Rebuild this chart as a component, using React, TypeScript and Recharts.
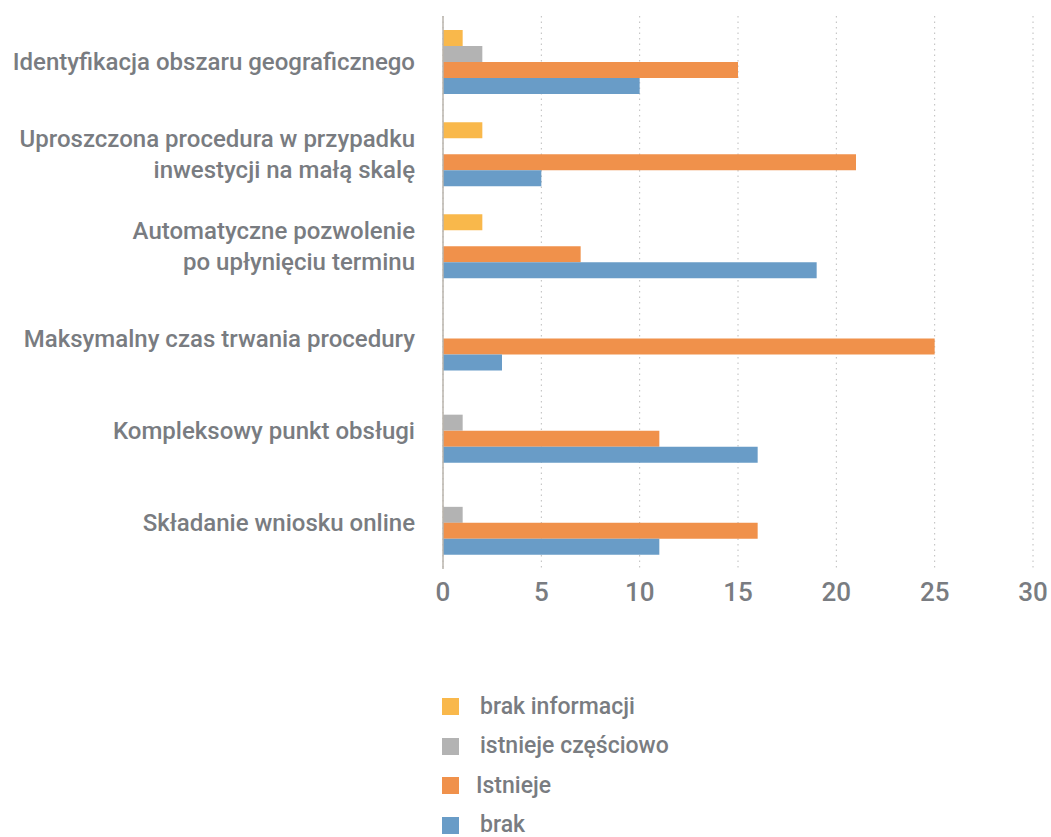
import { BarChart, Bar, XAxis, YAxis, CartesianGrid } from 'recharts'

// Kategorie (oś Y) – "\n" dzieli etykietę na linie
const categories = [
  'Identyfikacja obszaru geograficznego',
  'Uproszczona procedura w przypadku\ninwestycji na małą skalę',
  'Automatyczne pozwolenie\npo upłynięciu terminu',
  'Maksymalny czas trwania procedury',
  'Kompleksowy punkt obsługi ',
  'Składanie wniosku online ',
]

const brakInformacji = [1, 2, 2, 0, 0, 0]
const istniejeCzesciowo = [2, 0, 0, 0, 1, 1]
const istnieje = [15, 21, 7, 25, 11, 16]
const brak = [10, 5, 19, 3, 16, 11]

const xTicks = [0, 5, 10, 15, 20, 25, 30]

const series = [
  { key: 'brakInformacji', name: 'brak informacji', color: '#F9B84B', values: brakInformacji },
  { key: 'istniejeCzesciowo', name: 'istnieje częściowo', color: '#B3B3B3', values: istniejeCzesciowo },
  { key: 'istnieje', name: 'Istnieje', color: '#F0914B', values: istnieje },
  { key: 'brak', name: 'brak', color: '#699CC7', values: brak },
]

const data = categories.map((name, i) => {
  const row: Record<string, string | number> = { name }
  series.forEach(s => { row[s.key] = s.values[i] })
  return row
})

const TEXT = '#797c81'
const FONT = 'Roboto, "Noto Sans", sans-serif'

function CategoryTick({ x, y, payload }: any) {
  const lines = String(payload.value).split('\n')
  const lineHeight = 31
  const fontSize = 24
  const start = -((lines.length - 1) * lineHeight) / 2 + fontSize * 0.35
  return (
    <text x={x} y={y} textAnchor="end" fill={TEXT} fontSize={fontSize} fontWeight={500} fontFamily={FONT}>
      {lines.map((line, i) => (
        <tspan key={i} x={x} dy={i === 0 ? start : lineHeight}>{line}</tspan>
      ))}
    </text>
  )
}

export default function App() {
  return (
    <div style={{ position: 'absolute', left: 0, top: 0, width: 1051, height: 837, background: '#fff' }}>
      <BarChart
        width={1051}
        height={640}
        data={data}
        layout="vertical"
        margin={{ top: 16, right: 18, bottom: 31, left: 0 }}
        barSize={16}
        barGap={0}
      >
        <CartesianGrid horizontal={false} stroke="#bcbcbc" strokeDasharray="1.5 4" />
        <XAxis
          type="number"
          domain={[0, 30]}
          ticks={xTicks}
          axisLine={false}
          tickLine={false}
          tickMargin={8}
          height={40}
          tick={{ fill: TEXT, fontSize: 26, fontWeight: 500, fontFamily: FONT }}
        />
        <YAxis
          type="category"
          dataKey="name"
          width={443}
          axisLine={{ stroke: '#bab5ad', strokeWidth: 1.5 }}
          tickLine={false}
          tickMargin={22}
          tick={<CategoryTick />}
          interval={0}
        />
        {series.map(s => (
          <Bar key={s.key} dataKey={s.key} name={s.name} fill={s.color} isAnimationActive={false} />
        ))}
      </BarChart>

      {/* Legenda */}
      <div style={{ position: 'absolute', left: 442, top: 687, fontFamily: FONT }}>
        {series.map(s => (
          <div key={s.key} style={{ display: 'flex', alignItems: 'center', height: 39.5 }}>
            <div style={{ width: 17, height: 17, background: s.color, marginRight: 21 }} />
            <span style={{ color: TEXT, fontSize: 23, fontWeight: 500, lineHeight: '28px', marginLeft: s.name === 'Istnieje' ? -4 : 0 }}>
              {s.name}
            </span>
          </div>
        ))}
      </div>
    </div>
  )
}
